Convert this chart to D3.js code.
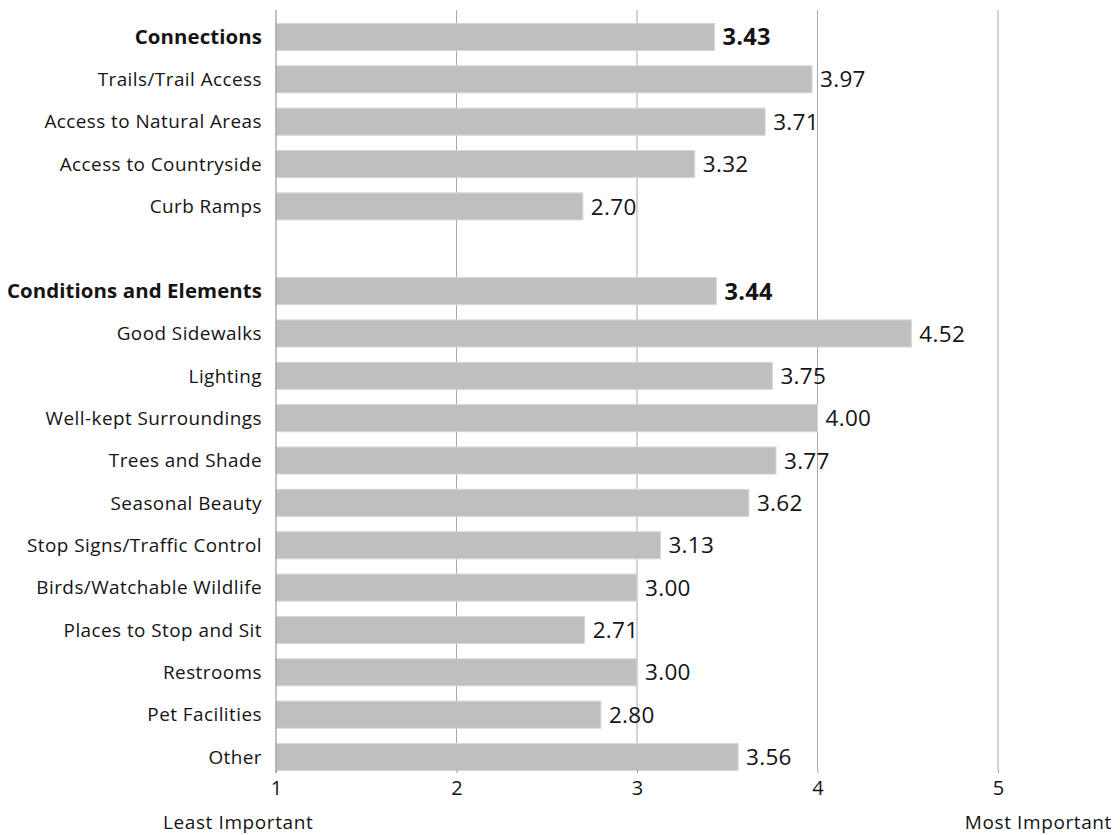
<!DOCTYPE html>
<html>
<head>
<meta charset="utf-8">
<script src="https://cdn.jsdelivr.net/npm/d3@7"></script>
<style>
  html, body { margin: 0; padding: 0; background: #ffffff; }
  svg { display: block; }
  text { font-family: "Open Sans", Lato, sans-serif; fill: #141414; }
</style>
</head>
<body>
<svg id="chart" width="1120" height="835"></svg>
<script>
// Rows top to bottom; an empty string is the spacer row between groups.
const categories = [
  "Connections", "Trails/Trail Access", "Access to Natural Areas",
  "Access to Countryside", "Curb Ramps", "",
  "Conditions and Elements", "Good Sidewalks", "Lighting",
  "Well-kept Surroundings", "Trees and Shade", "Seasonal Beauty",
  "Stop Signs/Traffic Control", "Birds/Watchable Wildlife",
  "Places to Stop and Sit", "Restrooms", "Pet Facilities", "Other"
];
const values = [
  3.43, 3.97, 3.71, 3.32, 2.70, null,
  3.44, 4.52, 3.75, 4.00, 3.77, 3.62, 3.13, 3.00, 2.71, 3.00, 2.80, 3.56
];
// Group header rows (drawn in bold)
const headers = ["Connections", "Conditions and Elements"];
const tickValues = [1, 2, 3, 4, 5];
const scaleEnds = ["Least Important", "Most Important"];

const svg = d3.select("#chart");

const x = d3.scaleLinear().domain([1, 5]).range([276, 998]);
const y = d3.scaleBand()
  .domain(d3.range(categories.length))
  .range([15.8, 778.2])
  .paddingInner(0.36)
  .paddingOuter(0.18);

const rows = categories.map((c, i) => ({ i, label: c, value: values[i], bold: headers.includes(c) }));
const barRows = rows.filter(d => d.value !== null);

const gridTop = 10, gridBottom = 770;

// Vertical gridlines
svg.append("g")
  .selectAll("line")
  .data(tickValues.slice(1))
  .join("line")
  .attr("x1", d => x(d)).attr("x2", d => x(d))
  .attr("y1", gridTop).attr("y2", gridBottom)
  .attr("stroke", "#a8a8a8")
  .attr("stroke-width", 1);

// Bars
svg.append("g")
  .selectAll("rect")
  .data(barRows)
  .join("rect")
  .attr("x", x(1))
  .attr("y", d => y(d.i))
  .attr("width", d => x(d.value) - x(1))
  .attr("height", y.bandwidth())
  .attr("fill", "#c0bebf")
  .attr("stroke", "#d9d8d8")
  .attr("stroke-width", 1);

// Baseline axis line
svg.append("line")
  .attr("x1", x(1)).attr("x2", x(1))
  .attr("y1", gridTop).attr("y2", gridBottom + 3)
  .attr("stroke", "#9a9a9a")
  .attr("stroke-width", 1.2);

// Bottom axis: ticks and numbers
const axis = d3.axisBottom(x)
  .tickValues(tickValues)
  .tickFormat(d3.format("d"))
  .tickSize(3)
  .tickPadding(8);
const gAxis = svg.append("g")
  .attr("transform", `translate(0,${gridBottom})`)
  .call(axis);
gAxis.select(".domain").remove();
gAxis.selectAll(".tick line").attr("stroke", "#9a9a9a");
gAxis.selectAll(".tick text")
  .attr("font-size", 20)
  .style("font-family", "'Open Sans', Lato, sans-serif")
  .attr("fill", "#141414");

// Category labels
svg.append("g")
  .selectAll("text")
  .data(rows.filter(d => d.label !== ""))
  .join("text")
  .attr("x", 262)
  .attr("y", d => y(d.i) + y.bandwidth() / 2)
  .attr("dy", "0.36em")
  .attr("text-anchor", "end")
  .attr("font-size", d => d.bold ? 20.4 : 18.9)
  .attr("font-weight", d => d.bold ? 700 : 500)
  .attr("letter-spacing", d => d.bold ? 0.1 : 0.45)
  .text(d => d.label);

// Value labels
svg.append("g")
  .selectAll("text")
  .data(barRows)
  .join("text")
  .attr("x", d => x(d.value) + 8)
  .attr("y", d => y(d.i) + y.bandwidth() / 2)
  .attr("dy", "0.36em")
  .attr("font-size", d => d.bold ? 23.5 : 22.5)
  .attr("font-weight", d => d.bold ? 700 : 500)
  .attr("letter-spacing", 0.3)
  .text(d => d3.format(".2f")(d.value));

// Scale end captions
svg.append("text")
  .attr("x", 163).attr("y", 829)
  .attr("font-size", 19)
  .attr("letter-spacing", 0.6)
  .text(scaleEnds[0]);
svg.append("text")
  .attr("x", 1112).attr("y", 829)
  .attr("text-anchor", "end")
  .attr("font-size", 19)
  .attr("letter-spacing", 0.6)
  .text(scaleEnds[1]);
</script>
</body>
</html>
